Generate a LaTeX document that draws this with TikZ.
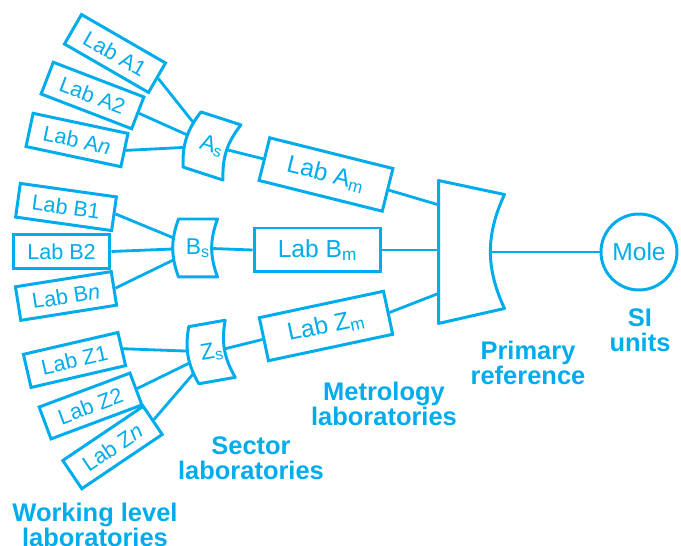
\documentclass[tikz,border=0pt]{standalone}
\usepackage{fontspec}
\setmainfont{Liberation Sans}
\usetikzlibrary{calc,backgrounds}
\begin{document}
\begin{tikzpicture}[x=0.02cm, y=-0.02cm, line width=1.7pt,
    every node/.style={text=labblue},
    wlab/.style={draw=labblue, fill=white, minimum width=1.94cm, minimum height=0.68cm, inner sep=0pt, font=\fontsize{12.3}{14}\selectfont},
    mlab/.style={draw=labblue, fill=white, minimum width=2.54cm, minimum height=0.88cm, inner sep=0pt, font=\fontsize{14}{16}\selectfont},
    slab/.style={minimum width=0.68cm, minimum height=1.1cm, inner sep=0pt, font=\fontsize{13}{14}\selectfont},
    tier/.style={align=center, font=\bfseries\fontsize{14.5}{14.2}\selectfont},
    link/.style={draw=labblue, line width=1.6pt},
    outline/.style={draw=labblue, fill=white, line width=1.7pt, line join=round}]
  \definecolor{labblue}{RGB}{0,172,236}
  \useasboundingbox (0,0) rectangle (681,546);
  \node[wlab, rotate=-30] (A1) at (115,53.5) {Lab A1};
  \node[wlab, rotate=-21] (A2) at (92.5,95.5) {Lab A2};
  \node[wlab, rotate=-12] (An) at (77,140) {Lab A\textit{n}};
  \node[wlab, rotate=-8] (B1) at (66,207) {Lab B1};
  \node[wlab] (B2) at (61.5,251.5) {Lab B2};
  \node[wlab, rotate=9] (Bn) at (66,296) {Lab B\textit{n}};
  \node[wlab, rotate=13] (Z1) at (74.5,360) {Lab Z1};
  \node[wlab, rotate=20.5] (Z2) at (90.5,406) {Lab Z2};
  \node[wlab, rotate=34] (Zn) at (112.5,447.5) {Lab Z\textit{n}};
  \node[slab, minimum width=0.78cm, rotate=-18] (As) at (212,146) {A\textsubscript{s}};
  \node[slab, minimum width=0.72cm] (Bs) at (198,248) {B\textsubscript{s}};
  \node[slab, rotate=10] (Zs) at (212,352) {Z\textsubscript{s}};
  \node[mlab, rotate=-14] (Am) at (326,174.5) {Lab A\textsubscript{m}};
  \node[mlab] (Bm) at (317.5,250) {Lab B\textsubscript{m}};
  \node[mlab, rotate=12] (Zm) at (326,326) {Lab Z\textsubscript{m}};
  \node[minimum width=1.26cm, minimum height=2.8cm, inner sep=0pt] (prim) at (471.5,252) {};
  \node[draw=labblue, circle, minimum size=1.52cm, inner sep=0pt, font=\fontsize{14}{16}\selectfont] (mole) at (639,252) {Mole};
  \node[tier] (si) at (640,330) {SI\\units};
  \node[tier] (prl) at (528,363) {Primary\\reference};
  \node[tier] (mel) at (384,404) {Metrology\\laboratories};
  \node[tier] (sel) at (251,458) {Sector\\laboratories};
  \node[tier] (wll) at (95,525) {Working level\\laboratories};
  \begin{scope}[on background layer]
    \foreach \w in {A1,A2,An} \draw[link] (\w.east) -- (As.center);
    \foreach \w in {B1,B2,Bn} \draw[link] (\w.east) -- (Bs.center);
    \foreach \w in {Z1,Z2,Zn} \draw[link] (\w.east) -- (Zs.center);
    \draw[link] (As.center) -- (Am.west);
    \draw[link] (Bs.center) -- (Bm.west);
    \draw[link] (Zs.center) -- (Zm.west);
    \draw[link] (Am.east) -- ($(prim.north west)!0.17!(prim.south west)$);
    \draw[link] (Bm.east) -- (Bm.east -| prim.west);
    \draw[link] (Zm.east) -- ($(prim.north west)!0.79!(prim.south west)$);
    \draw[link] (prim.center) -- (mole);
    \foreach \s in {As,Bs,Zs}
      \draw[outline] (\s.north west) -- (\s.north east) to[bend right=20] (\s.south east) -- (\s.south west) to[bend left=20] (\s.north west) -- cycle;
    \draw[outline] (prim.north west) -- ($(prim.north east)+(0,14)$) to[bend right=25] ($(prim.south east)+(0,-15)$) -- (prim.south west) -- cycle;
  \end{scope}
\end{tikzpicture}
\end{document}
